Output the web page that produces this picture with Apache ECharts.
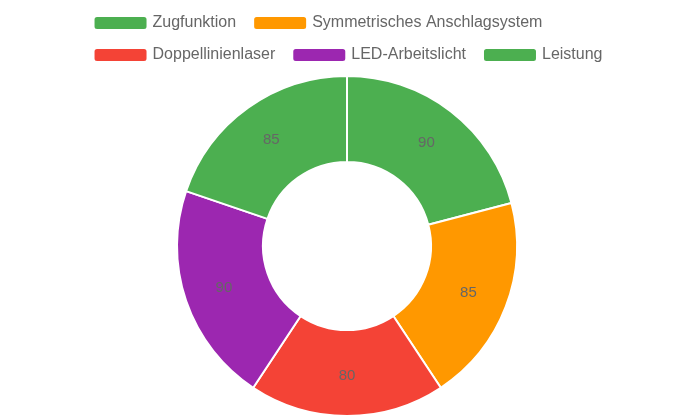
<!DOCTYPE html>
<html>
<head>
<meta charset="utf-8">
<script src="https://cdn.jsdelivr.net/npm/echarts@6/dist/echarts.min.js"></script>
<style>html,body{margin:0;padding:0;}#chart{width:695px;height:417px;}</style>
</head>
<body>
<div id="chart"></div>
<script>
const categories = ['Zugfunktion', 'Symmetrisches Anschlagsystem', 'Doppellinienlaser', 'LED-Arbeitslicht', 'Leistung'];
const values = [90, 85, 80, 90, 85];
const colors = ['#4CAF50', '#FF9800', '#F44336', '#9C27B0', '#4CAF50'];

const chart = echarts.init(document.getElementById('chart'));
chart.setOption({
  animation: false,
  legend: {
    top: 10,
    left: 'center',
    width: 580,
    itemWidth: 54,
    itemHeight: 14,
    itemGap: 16,
    textStyle: { fontSize: 16, color: '#666', fontFamily: 'Liberation Sans' },
    data: categories
  },
  series: [{
    type: 'pie',
    center: [347, 246],
    radius: [84, 170],
    startAngle: 90,
    itemStyle: { borderColor: '#fff', borderWidth: 2 },
    label: {
      show: true,
      position: 'inside',
      formatter: '{c}',
      color: '#666',
      fontSize: 15,
      fontFamily: 'Liberation Sans'
    },
    labelLine: { show: false },
    data: categories.map((name, i) => ({ name, value: values[i], itemStyle: { color: colors[i] } }))
  }]
});
</script>
</body>
</html>
